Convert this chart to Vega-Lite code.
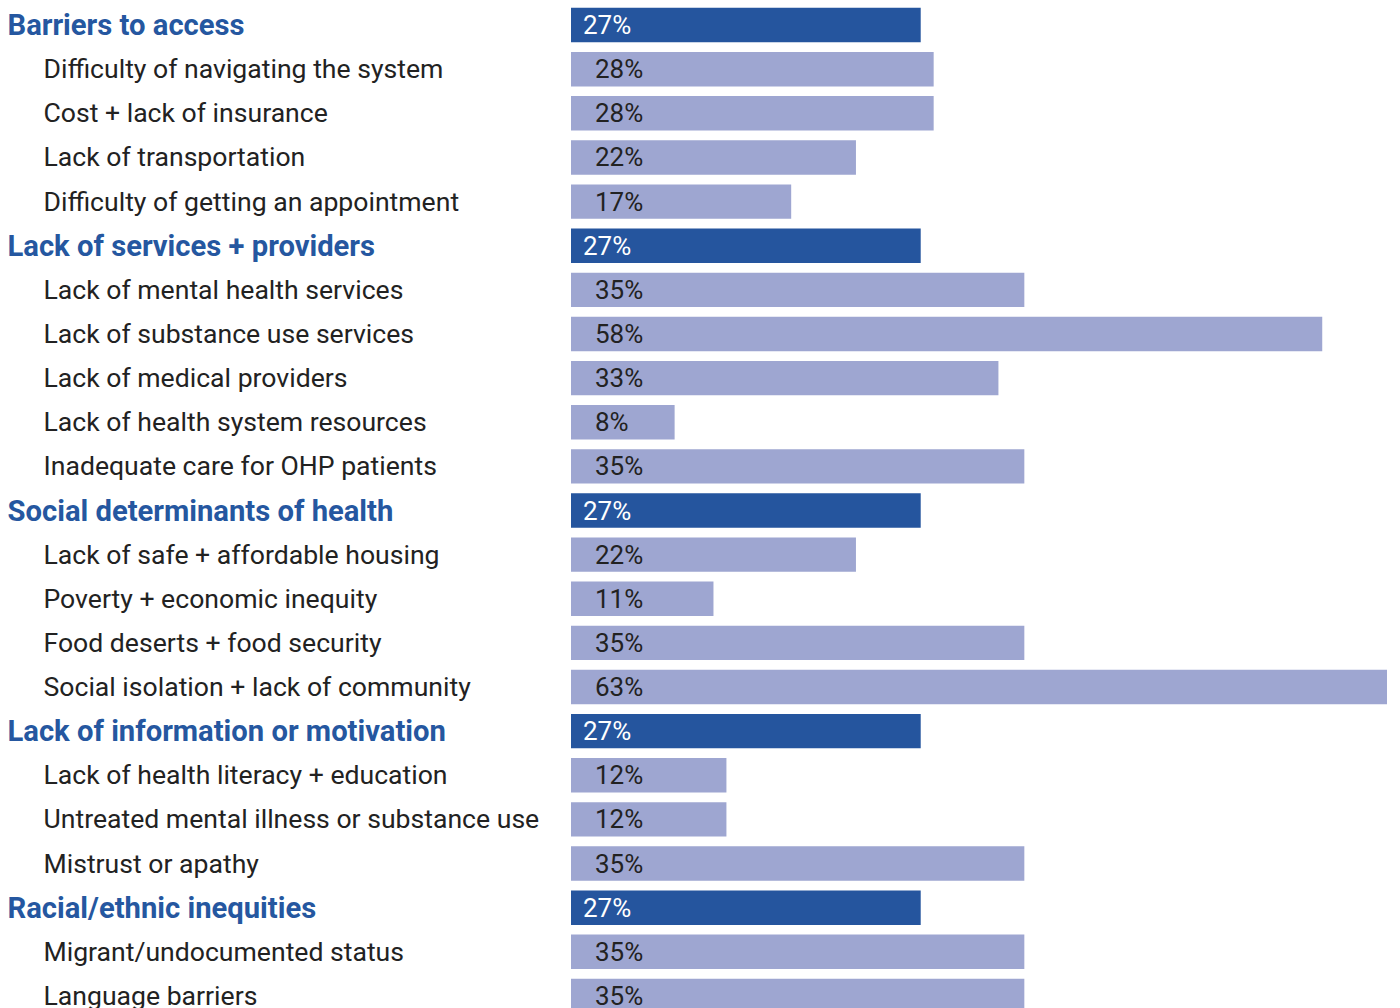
{
  "$schema": "https://vega.github.io/schema/vega-lite/v6.json",
  "autosize": {"type": "none"},
  "padding": {"left": 571, "top": 3, "right": 13, "bottom": 0},
  "width": 816,
  "height": 1015,
  "background": "white",
  "config": {"view": {"stroke": null}, "font": "Roboto"},
  "data": {
    "values": [
      {"label": "Barriers to access", "kind": "heading", "value": 27},
      {"label": "Difficulty of navigating the system", "kind": "item", "value": 28},
      {"label": "Cost + lack of insurance", "kind": "item", "value": 28},
      {"label": "Lack of transportation", "kind": "item", "value": 22},
      {"label": "Difficulty of getting an appointment", "kind": "item", "value": 17},
      {"label": "Lack of services + providers", "kind": "heading", "value": 27},
      {"label": "Lack of mental health services", "kind": "item", "value": 35},
      {"label": "Lack of substance use services", "kind": "item", "value": 58},
      {"label": "Lack of medical providers", "kind": "item", "value": 33},
      {"label": "Lack of health system resources", "kind": "item", "value": 8},
      {"label": "Inadequate care for OHP patients", "kind": "item", "value": 35},
      {"label": "Social determinants of health", "kind": "heading", "value": 27},
      {"label": "Lack of safe + affordable housing", "kind": "item", "value": 22},
      {"label": "Poverty + economic inequity", "kind": "item", "value": 11},
      {"label": "Food deserts + food security", "kind": "item", "value": 35},
      {"label": "Social isolation + lack of community", "kind": "item", "value": 63},
      {"label": "Lack of information or motivation", "kind": "heading", "value": 27},
      {"label": "Lack of health literacy + education", "kind": "item", "value": 12},
      {"label": "Untreated mental illness or substance use", "kind": "item", "value": 12},
      {"label": "Mistrust or apathy", "kind": "item", "value": 35},
      {"label": "Racial/ethnic inequities", "kind": "heading", "value": 27},
      {"label": "Migrant/undocumented status", "kind": "item", "value": 35},
      {"label": "Language barriers", "kind": "item", "value": 35}
    ]
  },
  "transform": [{"calculate": "datum.value + '%'", "as": "pct"}],
  "encoding": {
    "y": {
      "field": "label",
      "type": "nominal",
      "sort": null,
      "scale": {"paddingInner": 0.22, "paddingOuter": 0.11},
      "axis": {
        "title": null,
        "domain": false,
        "ticks": false,
        "tickSize": 0,
        "labelAlign": "left",
        "labelBaseline": "middle",
        "labelOffset": 1,
        "labelLimit": 0,
        "labelFont": "Roboto",
        "labelFontSize": {"condition": {"test": "indexof(['Barriers to access','Lack of services + providers','Social determinants of health','Lack of information or motivation','Racial/ethnic inequities'], datum.value) >= 0", "value": 29.2}, "value": 26.6},
        "labelFontWeight": {"condition": {"test": "indexof(['Barriers to access','Lack of services + providers','Social determinants of health','Lack of information or motivation','Racial/ethnic inequities'], datum.value) >= 0", "value": "bold"}, "value": "normal"},
        "labelColor": {"condition": {"test": "indexof(['Barriers to access','Lack of services + providers','Social determinants of health','Lack of information or motivation','Racial/ethnic inequities'], datum.value) >= 0", "value": "#2557a0"}, "value": "#222222"},
        "labelPadding": {"condition": {"test": "indexof(['Barriers to access','Lack of services + providers','Social determinants of health','Lack of information or motivation','Racial/ethnic inequities'], datum.value) >= 0", "value": 564}, "value": 528}
      }
    }
  },
  "layer": [
    {
      "mark": {"type": "bar"},
      "encoding": {
        "x": {"field": "value", "type": "quantitative", "scale": {"domain": [0, 63], "nice": false, "zero": true}, "axis": null},
        "color": {
          "field": "kind",
          "type": "nominal",
          "scale": {"domain": ["heading", "item"], "range": ["#25559e", "#9ea6d1"]},
          "legend": null
        }
      }
    },
    {
      "transform": [{"filter": "datum.kind === 'heading'"}],
      "mark": {"type": "text", "align": "left", "baseline": "middle", "dx": 12, "dy": 1, "fontSize": 26, "font": "Roboto", "color": "white"},
      "encoding": {
        "x": {"datum": 0, "type": "quantitative"},
        "text": {"field": "pct", "type": "nominal"}
      }
    },
    {
      "transform": [{"filter": "datum.kind === 'item'"}],
      "mark": {"type": "text", "align": "left", "baseline": "middle", "dx": 24, "dy": 1, "fontSize": 26, "font": "Roboto", "color": "#222222"},
      "encoding": {
        "x": {"datum": 0, "type": "quantitative"},
        "text": {"field": "pct", "type": "nominal"}
      }
    }
  ]
}
